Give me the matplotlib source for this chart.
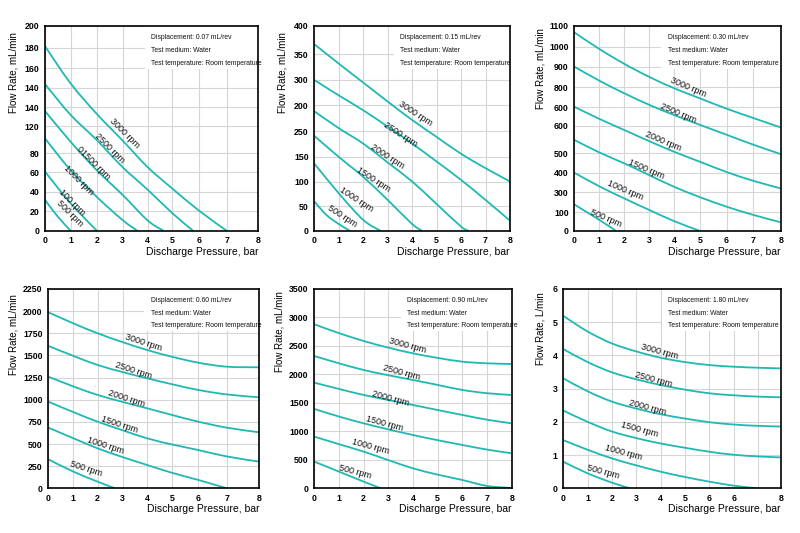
import matplotlib
matplotlib.use("Agg")
import matplotlib.pyplot as plt
from matplotlib.patches import Rectangle, PathPatch
from matplotlib.path import Path
import numpy as np

plt.rcParams['font.family'] = ['Liberation Sans', 'DejaVu Sans']

line_color = '#1fb8b3'
grid_color = '#d6d6d6'

# ---- panel 1: 0.07 mL/rev ----
p1_xticks = [0, 0.96, 1.94, 2.91, 3.85, 4.78, 5.78, 6.81, 8.0]
p1_xlabels = ["0", "1", "2", "3", "4", "5", "6", "7", "8"]
p1_yticks = [0, 18.9, 38.0, 57.2, 75.4, 102.1, 120.3, 139.5, 158.4, 178.5, 200]
p1_ylabels = ["0", "20", "40", "60", "80", "120", "140", "140", "160", "180", "200"]
p1_names = ["3000 rpm", "2500 rpm", "01500 rpm", "1000 rpm", "100 rpm", "500 rpm"]
p1_x = [[0, 0.96, 1.94, 2.91, 3.85, 4.78, 5.78, 6.81],
        [0, 0.96, 1.94, 2.91, 3.85, 4.78, 5.55],
        [0, 0.96, 1.94, 2.91, 3.85, 4.44],
        [0, 0.96, 1.94, 2.91, 3.46],
        [0, 0.96, 1.94],
        [0, 0.48, 0.96]]
p1_y = [[180, 143.7, 114, 88, 62, 41, 19.5, 0],
        [143, 113, 88.5, 62, 40, 17, 0],
        [116.7, 86.8, 59, 35, 10, 0],
        [90, 59, 33, 10.4, 0],
        [57.6, 26.7, 0],
        [30, 13.7, 0]]
p1_lx = [3.0, 2.41, 1.81, 1.25, 1.0, 0.94]
p1_ly = [95, 80, 66, 49, 28, 17]

# ---- panel 2: 0.15 mL/rev ----
p2_xticks = [0, 1, 2, 3, 4, 5, 6, 7, 8]
p2_xlabels = ["0", "1", "2", "3", "4", "5", "6", "7", "8"]
p2_yticks = [0, 48.1, 95.6, 144.4, 193.8, 244.6, 294.6, 344.7, 400]
p2_ylabels = ["0", "50", "100", "150", "250", "200", "300", "350", "400"]
p2_names = ["3000 rpm", "2500 rpm", "2000 rpm", "1500 rpm", "1000 rpm", "500 rpm"]
p2_x = [[0, 1, 2, 3, 4, 5, 6, 7, 8],
        [0, 1, 2, 3, 4, 5, 6, 7, 8],
        [0, 1, 2, 3, 4, 5, 6, 6.3],
        [0, 1, 2, 3, 4, 4.4],
        [0, 1, 2, 2.7],
        [0, 0.5, 1, 1.45]]
p2_y = [[364, 326, 289, 252, 216, 183, 150, 122, 96],
        [294, 264, 235, 203, 170, 135, 99, 60, 19.5],
        [233, 200, 170, 133, 96, 52, 8, 0],
        [185, 144, 105, 60, 13, 0],
        [131, 73, 21, 0],
        [57, 30.5, 13, 0]]
p2_lx = [4.13, 3.52, 2.97, 2.42, 1.70, 1.15]
p2_ly = [229, 187, 144, 99, 61, 29]

# ---- panel 3: 0.30 mL/rev ----
p3_xticks = [0, 0.97, 1.94, 2.91, 3.86, 4.87, 5.90, 6.93, 8.0]
p3_xlabels = ["0", "1", "2", "3", "4", "5", "6", "7", "8"]
p3_yticks = [0, 100, 206, 311, 415, 562, 662, 769, 880, 987, 1100]
p3_ylabels = ["0", "100", "300", "400", "500", "600", "600", "800", "900", "1000", "1100"]
p3_names = ["3000 rpm", "2500 rpm", "2000 rpm", "1500 rpm", "1000 rpm", "500 rpm"]
p3_x = [[0, 0.97, 1.94, 2.91, 3.86, 4.87, 5.90, 6.93, 8.0],
        [0, 0.97, 1.94, 2.91, 3.86, 4.87, 5.90, 6.93, 8.0],
        [0, 0.97, 1.94, 2.91, 3.86, 4.87, 5.90, 6.93, 8.0],
        [0, 0.97, 1.94, 2.91, 3.86, 4.87, 5.90, 6.93, 8.0],
        [0, 0.97, 1.94, 2.91, 3.86, 4.84],
        [0, 0.5, 1.0, 1.61]]
p3_y = [[1064, 975, 895, 825, 765, 710, 655, 605, 554],
        [880, 805, 737, 675, 621, 568, 515, 462, 411],
        [665, 600, 540, 480, 424, 370, 315, 268, 227],
        [487, 420, 361, 298, 236, 180, 129, 85, 45],
        [311, 238, 173, 111, 52, 0],
        [141, 98, 55, 0]]
p3_lx = [4.42, 4.03, 3.45, 2.80, 1.96, 1.23]
p3_ly = [769, 630, 478, 329, 215, 66]

# ---- panel 4: 0.60 mL/rev ----
p4_xticks = [0, 0.95, 1.87, 2.82, 3.75, 4.69, 5.69, 6.76, 8.0]
p4_xlabels = ["0", "1", "2", "3", "4", "5", "6", "7", "8"]
p4_yticks = [0, 250, 500, 750, 1000, 1250, 1500, 1750, 2000, 2250]
p4_ylabels = ["0", "250", "500", "750", "1000", "1250", "1500", "1750", "2000", "2250"]
p4_names = ["3000 rpm", "2500 rpm", "2000 rpm", "1500 rpm", "1000 rpm", "500 rpm"]
p4_x = [[0, 0.95, 1.87, 2.82, 3.75, 4.69, 5.69, 6.76, 8.0],
        [0, 0.95, 1.87, 2.82, 3.75, 4.69, 5.69, 6.76, 8.0],
        [0, 0.95, 1.87, 2.82, 3.75, 4.69, 5.69, 6.76, 8.0],
        [0, 0.95, 1.87, 2.82, 3.75, 4.69, 5.69, 6.76, 8.0],
        [0, 0.95, 1.87, 2.82, 3.75, 4.69, 5.69, 6.76],
        [0, 0.95, 1.87, 2.53]]
p4_y = [[1987, 1862, 1750, 1650, 1561, 1485, 1418, 1373, 1366],
        [1607, 1495, 1392, 1312, 1242, 1175, 1110, 1060, 1027],
        [1260, 1150, 1054, 975, 903, 828, 752, 685, 632],
        [978, 860, 752, 655, 564, 495, 432, 360, 301],
        [685, 565, 451, 352, 263, 175, 94, 0],
        [327, 188, 75, 0]]
p4_lx = [3.6, 3.22, 2.95, 2.69, 2.15, 1.43]
p4_ly = [1648, 1324, 1008, 722, 482, 218]

# ---- panel 5: 0.90 mL/rev ----
p5_xticks = [0, 1, 2, 3, 4, 5, 6, 7, 8]
p5_xlabels = ["0", "1", "2", "3", "4", "5", "6", "7", "8"]
p5_yticks = [0, 500, 1000, 1500, 2000, 2500, 3000, 3500]
p5_ylabels = ["0", "500", "1000", "1500", "2000", "2500", "3000", "3500"]
p5_names = ["3000 rpm", "2500 rpm", "2000 rpm", "1500 rpm", "1000 rpm", "500 rpm"]
p5_x = [[0, 1, 2, 3, 4, 5, 6, 7, 8],
        [0, 1, 2, 3, 4, 5, 6, 7, 8],
        [0, 1, 2, 3, 4, 5, 6, 7, 8],
        [0, 1, 2, 3, 4, 5, 6, 7, 8],
        [0, 1, 2, 3, 4, 5, 6, 7, 8],
        [0, 1, 2, 2.7]]
p5_y = [[2880, 2725, 2587, 2470, 2370, 2290, 2224, 2195, 2183],
        [2323, 2195, 2078, 1985, 1902, 1815, 1727, 1670, 1639],
        [1855, 1745, 1639, 1550, 1463, 1375, 1288, 1205, 1141],
        [1393, 1260, 1141, 1035, 936, 845, 761, 680, 615],
        [907, 775, 644, 495, 351, 240, 146, 41, 5],
        [468, 293, 117, 0]]
p5_lx = [3.77, 3.54, 3.09, 2.85, 2.28, 1.66]
p5_ly = [2499, 2031, 1580, 1141, 732, 293]

# ---- panel 6: 1.80 mL/rev ----
p6_xticks = [0, 1, 2, 3, 4, 5, 6, 7, 8, 8.93]
p6_xlabels = ["0", "1", "2", "3", "4", "5", "6", "6", "", "8"]
p6_yticks = [0, 1, 2, 3, 4, 5, 6]
p6_ylabels = ["0", "1", "2", "3", "4", "5", "6"]
p6_names = ["3000 rpm", "2500 rpm", "2000 rpm", "1500 rpm", "1000 rpm", "500 rpm"]
p6_x = [[0, 1, 2, 3, 4, 5, 6, 7, 8, 8.93],
        [0, 1, 2, 3, 4, 5, 6, 7, 8, 8.93],
        [0, 1, 2, 3, 4, 5, 6, 7, 8, 8.93],
        [0, 1, 2, 3, 4, 5, 6, 7, 8, 8.93],
        [0, 1, 2, 3, 4, 5, 6, 7, 7.95],
        [0, 1, 2, 2.74]]
p6_y = [[5.19, 4.72, 4.36, 4.12, 3.93, 3.80, 3.71, 3.66, 3.63, 3.61],
        [4.19, 3.80, 3.49, 3.28, 3.11, 2.97, 2.86, 2.80, 2.76, 2.74],
        [3.31, 2.92, 2.61, 2.40, 2.23, 2.10, 1.99, 1.92, 1.88, 1.86],
        [2.34, 2.00, 1.71, 1.51, 1.35, 1.22, 1.10, 1.01, 0.96, 0.93],
        [1.45, 1.16, 0.90, 0.69, 0.50, 0.34, 0.20, 0.08, 0],
        [0.80, 0.45, 0.17, 0]]
p6_lx = [3.97, 3.70, 3.45, 3.15, 2.47, 1.64]
p6_ly = [4.11, 3.28, 2.43, 1.76, 1.07, 0.50]

displacements = ["0.07", "0.15", "0.30", "0.60", "0.90", "1.80"]
y_titles = ["Flow Rate, mL/min"] * 5 + ["Flow Rate, L/min"]

# frame boxes in pixels: left, top, right, bottom
boxes = [(45, 25.7, 258.3, 230.7), (314.3, 25.7, 510, 230.7), (574.3, 25.7, 780.7, 230.7),
         (48.3, 289, 259.3, 488.3), (314.3, 289, 511.7, 488.3), (563.3, 289, 780.7, 488.3)]
xlims = [8, 8, 8, 8, 8, 8.93]
ylims = [200, 400, 1100, 2250, 3500, 6]
rotations = [-45, -33, -23, -18, -15, -15]
info_x = [0.498, 0.438, 0.452, 0.485, 0.468, 0.483]
ylab_pos = [(-0.15, 0.77), (-0.16, 0.77), (-0.166, 0.79), (-0.167, 0.77), (-0.174, 0.785), (-0.107, 0.80)]

panels = [
    (p1_xticks, p1_xlabels, p1_yticks, p1_ylabels, p1_names, p1_x, p1_y, p1_lx, p1_ly),
    (p2_xticks, p2_xlabels, p2_yticks, p2_ylabels, p2_names, p2_x, p2_y, p2_lx, p2_ly),
    (p3_xticks, p3_xlabels, p3_yticks, p3_ylabels, p3_names, p3_x, p3_y, p3_lx, p3_ly),
    (p4_xticks, p4_xlabels, p4_yticks, p4_ylabels, p4_names, p4_x, p4_y, p4_lx, p4_ly),
    (p5_xticks, p5_xlabels, p5_yticks, p5_ylabels, p5_names, p5_x, p5_y, p5_lx, p5_ly),
    (p6_xticks, p6_xlabels, p6_yticks, p6_ylabels, p6_names, p6_x, p6_y, p6_lx, p6_ly),
]


def smooth_path(xs, ys):
    # catmull-rom through the read points, drawn as bezier segments
    pts = np.column_stack([xs, ys]).astype(float)
    verts = [pts[0]]
    codes = [Path.MOVETO]
    n = len(pts)
    for i in range(n - 1):
        p0 = pts[i - 1] if i > 0 else pts[i]
        p1, p2 = pts[i], pts[i + 1]
        p3 = pts[i + 2] if i + 2 < n else pts[i + 1]
        verts += [p1 + (p2 - p0) / 6, p2 - (p3 - p1) / 6, p2]
        codes += [Path.CURVE4] * 3
    return Path(verts, codes)


W, H = 800, 533
fig = plt.figure(figsize=(8, 5.33), dpi=100)

for i, (xt, xl, yt, yl, names, xs, ys, lx, ly) in enumerate(panels):
    left, top, right, bottom = boxes[i]
    ax = fig.add_axes([left / W, 1 - bottom / H, (right - left) / W, (bottom - top) / H])
    ax.set_xlim(0, xlims[i])
    ax.set_ylim(0, ylims[i])
    ax.set_xticks(xt)
    ax.set_xticklabels(xl)
    ax.set_yticks(yt)
    ax.set_yticklabels(yl)
    ax.tick_params(length=0, pad=4, labelsize=6.3)
    for lab in ax.get_xticklabels() + ax.get_yticklabels():
        lab.set_fontweight('bold')
    ax.grid(True, color=grid_color, lw=0.8)
    ax.set_axisbelow(True)
    for sp in ax.spines.values():
        sp.set_linewidth(1.2)
        sp.set_color('black')
        sp.set_zorder(5)

    # white block behind the test conditions text
    ax.add_patch(Rectangle((info_x[i] - 0.03, 0.79), 1.03 - info_x[i], 0.21,
                           transform=ax.transAxes, facecolor='white', edgecolor='none', zorder=1))

    for xv, yv in zip(xs, ys):
        ax.add_patch(PathPatch(smooth_path(xv, yv), fill=False, edgecolor=line_color,
                               lw=1.3, zorder=3, capstyle='butt'))
    for name, tx, ty in zip(names, lx, ly):
        ax.text(tx, ty, name, rotation=rotations[i], rotation_mode='anchor',
                ha='center', va='center', fontsize=6.5, color='#111111', zorder=4)

    info = [f"Displacement: {displacements[i]} mL/rev", "Test medium: Water",
            "Test temperature: Room temperature"]
    for txt, yy in zip(info, [0.943, 0.879, 0.818]):
        ax.text(info_x[i], yy, txt, transform=ax.transAxes, fontsize=4.9,
                ha='left', va='center', color='#111111', zorder=4)

    ax.set_ylabel(y_titles[i], fontsize=7, va='center')
    ax.yaxis.set_label_coords(*ylab_pos[i])
    ax.set_xlabel("Discharge Pressure, bar", fontsize=7.5, loc='right', va='center')
    ax.xaxis.set_label_coords(1.0, -0.105)

fig.savefig("out.png", dpi=100, facecolor='white')
